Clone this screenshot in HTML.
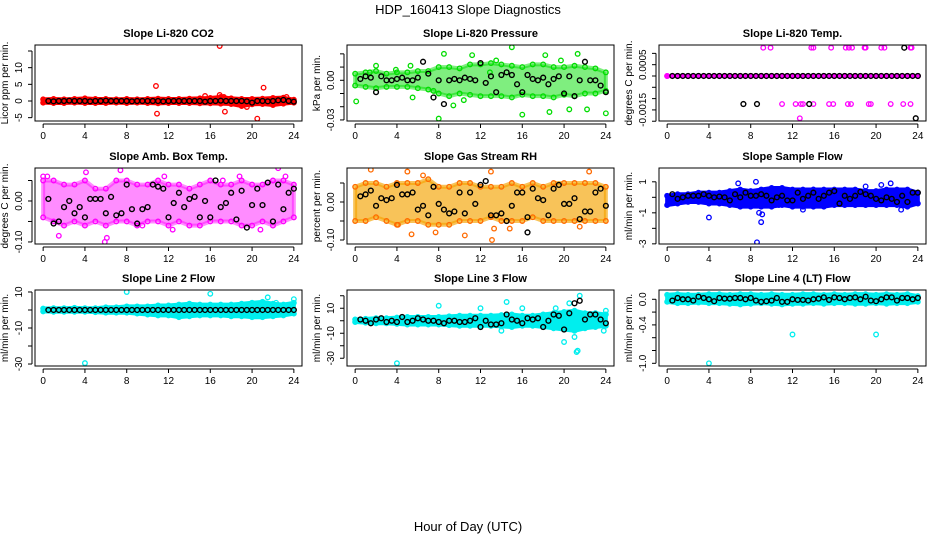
<!DOCTYPE html>
<html><head><meta charset="utf-8"><style>
html,body{margin:0;padding:0;background:#fff;}
svg{display:block;font-family:"Liberation Sans",Arial,sans-serif;}
</style></head><body>
<svg id="chart" width="936" height="540" viewBox="0 0 936 540">
<text x="468" y="14" text-anchor="middle" font-size="13">HDP_160413  Slope Diagnostics</text>
<text x="468" y="531" text-anchor="middle" font-size="13">Hour of Day (UTC)</text>
</svg>
<script>
const hours=[0,1,2,3,4,5,6,7,8,9,10,11,12,13,14,15,16,17,18,19,20,21,22,23,24];
const blackHours=[0.5,1,1.5,2,2.5,3,3.5,4,4.5,5,5.5,6,6.5,7,7.5,8,8.5,9,9.5,10,10.5,11,11.5,12,12.5,13,13.5,14,14.5,15,15.5,16,16.5,17,17.5,18,18.5,19,19.5,20,20.5,21,21.5,22,22.5,23,23.5,24];
const xTicks=[0,4,8,12,16,20,24];

const co2Hi=[0.5,0.6,0.5,0.6,0.8,0.6,0.6,0.5,0.6,0.5,0.6,0.7,0.6,0.6,0.7,0.8,0.9,1.2,0.8,0.6,0.6,0.7,0.9,1.0,0.4];
const co2Lo=[-0.5,-0.6,-0.6,-0.5,-0.6,-0.6,-0.6,-0.5,-0.6,-0.5,-0.6,-0.7,-0.6,-0.6,-0.6,-0.7,-0.7,-0.8,-0.9,-1.5,-1.0,-0.9,-1.2,-0.8,-0.5];
const co2Black=[0,-0.1,0,0,0.1,0,0,0,-0.1,0,0,0.1,0,0,0,0,-0.1,0,0,0,0,0,-0.1,0,0,0,0,0,0,0,-0.2,0,0,0.1,0,0,0,0,-0.1,-0.5,0,0,-0.1,0,0.2,0.3,0,-0.2];
const co2OutX=[10.8,10.9,15.5,16.9,16.9,17.4,17.3,21.1,20.5,19.5,23.3];
const co2OutY=[4.5,-3.8,1.5,16.5,1.8,-3.2,1.2,4,-5.3,-1.8,1.2];

const presHi=[0.005,0.006,0.007,0.005,0.006,0.006,0.007,0.007,0.01,0.01,0.009,0.012,0.012,0.013,0.012,0.011,0.01,0.012,0.012,0.01,0.01,0.011,0.01,0.009,0.006];
const presLo=[-0.004,-0.005,-0.006,-0.005,-0.005,-0.005,-0.006,-0.007,-0.01,-0.012,-0.01,-0.011,-0.012,-0.012,-0.012,-0.013,-0.011,-0.012,-0.012,-0.013,-0.011,-0.012,-0.01,-0.01,-0.008];
const presBlack=[0.001,0.003,0.002,-0.009,0.003,0,0,0.001,0.002,0,0,0.002,0.014,0.005,-0.013,0,-0.018,0,0.001,0,0.002,0.001,0,0.013,-0.002,0.003,-0.009,0.004,0.006,0.004,-0.003,-0.009,0.004,0.001,0,0.002,-0.003,0.001,0.003,-0.01,0.003,-0.012,0,0.014,0,0,-0.004,-0.009];
const presOutX=[0.1,8.5,11.2,15,18.2,21.3,8,16,18.6,20.5,22.2,24,9.4,13.5,19.7,7.5,10.4,5.5,1.4,2,3.9,5.3,12.9];
const presOutY=[-0.016,0.02,0.019,0.025,0.019,0.02,-0.029,-0.026,-0.024,-0.022,-0.022,-0.025,-0.019,0.015,0.015,-0.008,-0.015,-0.013,0.006,0.011,0.008,0.011,0.006];

const tempHi=[0,0,0,0,0,0,0,0,0,0,0,0,0,0,0,0,0,0,0,0,0,0,0,0,0];
const tempLo=[0,0,0,0,0,0,0,0,0,0,0,0,0,0,0,0,0,0,0,0,0,0,0,0,0];
const tempBlack=[0,0,0,0,0,0,0,0,0,0,0,0,0,0,0,0,0,0,0,0,0,0,0,0,0,0,0,0,0,0,0,0,0,0,0,0,0,0,0,0,0,0,0,0,0,0,0,0];
const tempOutX=[9.2,9.9,13.8,14,15.7,17.1,17.4,17.7,18.9,19,20.5,20.8,23.3,23.4,11,12.3,12.8,13,14,15.5,15.9,17.3,17.6,19.3,19.5,21.4,22.6,23.3,12.7];
const tempOutY=[0.00125,0.00125,0.00125,0.00125,0.00125,0.00125,0.00125,0.00125,0.00125,0.00125,0.00125,0.00125,0.00125,0.00125,-0.00124,-0.00124,-0.00124,-0.00124,-0.00124,-0.00124,-0.00124,-0.00124,-0.00124,-0.00124,-0.00124,-0.00124,-0.00124,-0.00124,-0.00187];
const tempBkX=[22.7,7.3,8.6,13.6,23.8];
const tempBkY=[0.00125,-0.00124,-0.00124,-0.00124,-0.00187];

const ambHi=[0.05,0.05,0.04,0.04,0.05,0.03,0.03,0.05,0.05,0.04,0.04,0.05,0.04,0.04,0.03,0.04,0.05,0.04,0.04,0.05,0.04,0.04,0.05,0.05,0.04];
const ambLo=[-0.04,-0.05,-0.06,-0.05,-0.06,-0.05,-0.06,-0.05,-0.05,-0.06,-0.05,-0.05,-0.06,-0.05,-0.06,-0.06,-0.05,-0.05,-0.05,-0.06,-0.06,-0.05,-0.06,-0.05,-0.04];
const ambBlack=[0.005,-0.055,-0.05,-0.015,0,-0.03,-0.015,-0.04,0.005,0.005,0.005,-0.03,0.01,-0.035,-0.03,0.04,-0.02,-0.055,-0.02,-0.015,0.04,0.035,0.03,-0.04,-0.005,0.02,-0.015,0.005,0.01,-0.04,0,-0.04,0.05,-0.015,-0.005,0.02,-0.045,0.025,-0.065,-0.01,0.03,-0.01,0.045,-0.05,0.04,-0.02,0.02,0.03];
const ambOutX=[0,0.4,1.5,4.1,5.9,6.1,7.4,11.6,17.2,18.8,22.5,23.2,9.5,12.4,20.8];
const ambOutY=[0.06,0.06,-0.085,0.07,-0.1,-0.09,0.075,0.06,0.05,0.06,0.08,0.06,-0.06,-0.07,-0.07];

const rhHi=[0.04,0.05,0.05,0.04,0.05,0.05,0.05,0.06,0.04,0.04,0.05,0.05,0.04,0.04,0.04,0.05,0.04,0.05,0.04,0.05,0.05,0.05,0.05,0.05,0.04];
const rhLo=[-0.05,-0.05,-0.04,-0.05,-0.06,-0.05,-0.05,-0.06,-0.06,-0.06,-0.05,-0.05,-0.05,-0.04,-0.05,-0.05,-0.05,-0.04,-0.05,-0.05,-0.05,-0.05,-0.05,-0.05,-0.05];
const rhBlack=[0.015,0.02,0.03,-0.01,0.01,0.005,0.01,0.045,0.02,0.02,0.025,-0.02,-0.01,-0.035,0.04,-0.005,-0.02,-0.03,-0.025,0.025,-0.03,0.025,-0.005,0.045,0.055,-0.035,-0.035,-0.03,-0.05,-0.01,0.025,0.025,-0.04,0.035,0.01,0.005,-0.035,0.035,0.045,-0.005,-0.005,0.01,-0.045,-0.025,-0.025,0.025,0.035,-0.01];
const rhOutX=[1.5,5,5.4,6.5,7.7,10.5,13,13.1,13.3,14.8,22.4,21.5,4.1];
const rhOutY=[0.085,0.08,-0.085,0.07,-0.08,-0.088,0.08,-0.1,-0.07,-0.07,0.08,-0.065,-0.06];
const rhBkX=[16.5];
const rhBkY=[-0.08];

const flowHi=[0.1,0.2,0.2,0.3,0.3,0.3,0.4,0.5,0.4,0.5,0.6,0.6,0.5,0.5,0.5,0.5,0.5,0.5,0.5,0.4,0.4,0.5,0.5,0.5,0.3];
const flowLo=[-0.5,-0.4,-0.3,-0.3,-0.4,-0.4,-0.5,-0.6,-0.6,-0.6,-0.6,-0.5,-0.6,-0.6,-0.6,-0.6,-0.5,-0.5,-0.5,-0.5,-0.5,-0.5,-0.5,-0.6,-0.4];
const flowBlack=[0.2,-0.1,0,0.1,0.1,0.1,0.2,0.1,0,0.05,0,-0.2,0.2,0,0.3,0.1,0.1,0.2,0.1,-0.2,0,0.1,-0.2,-0.2,0.3,-0.1,0.1,0.3,-0.1,0.1,0.3,0.4,-0.4,0.1,-0.1,0.1,0.35,0.2,0.1,-0.1,-0.2,0,-0.1,-0.3,0.1,-0.3,0.3,0.3];
const flowOutX=[4,6.8,8.5,8.8,8.6,8.8,9,9.1,19,20.5,21.4,22.4,13,14,10.7];
const flowOutY=[-1.3,0.9,1.0,2.3,-2.9,-1.0,-1.6,-1.1,0.7,0.8,0.9,-0.8,-0.8,0.5,-0.5];

const l2Hi=[0.8,1,1,1.2,1,1,1.5,1.5,2,2,2,2.5,2.5,3,3.5,3,3,3,3,3.5,4,4.5,3.5,3,4];
const l2Lo=[-0.8,-1,-1,-1,-1,-1.2,-1.5,-1.5,-1.5,-2,-2.5,-3,-3,-4,-3.5,-3,-3,-3,-3.5,-3.5,-4,-4,-3.5,-3,-2];
const l2Black=[0,0,0,0,0,0,0,0,0,0,0,0,0,0,0,0,0,0,0,0,0,0,0,0,0,0,0,0,0,0,0,0,0,0,0,0,0,0,0,0,0,0,0,0,0,0,0,0];
const l2OutX=[4,8,16,21.5,24,22.3,20];
const l2OutY=[-29.5,10,9,7,6,4,4];

const l3Hi=[1,1.5,2,2,2.5,3,3,3,3,3.5,4,4,4,4,4.5,5,4,4,5,6,7,8,6,6,5];
const l3Lo=[-1,-1.5,-2,-2,-2.5,-3,-3,-3,-3,-3.5,-4,-4,-4,-4,-4.5,-5,-4,-4,-5,-6,-7,-8,-6,-5,-4];
const l3Black=[1,0,-2,1,2,-1,0,-1,3,-1,0,2,1,0,0,-1,-2,0,0,-1,-1,0,2,-5,0,-3,-3,-2,5,1,0,-2,2,1,2,-5,0,5,4,-7,6,14,16,1,5,5,1,-2];
const l3OutX=[4,8,12,14.5,16,19.2,20,20.5,21,21.2,21.3,21.5,24,23.8,14];
const l3OutY=[-34,12,10,15,10,10,-17,14,-13,-25,-24,20,8,-8,-8];

const l4Hi=[0.07,0.08,0.07,0.07,0.08,0.08,0.07,0.08,0.08,0.07,0.08,0.07,0.07,0.08,0.08,0.07,0.08,0.07,0.08,0.08,0.07,0.08,0.07,0.08,0.05];
const l4Lo=[-0.04,-0.06,-0.06,-0.05,-0.06,-0.06,-0.07,-0.08,-0.07,-0.06,-0.07,-0.08,-0.07,-0.07,-0.06,-0.07,-0.06,-0.06,-0.07,-0.07,-0.06,-0.07,-0.06,-0.06,-0.04];
const l4Black=[-0.02,0.02,0,0,-0.02,0.04,0.02,0,-0.03,0.02,0.01,0.01,0.02,0.02,0,0.02,-0.02,-0.04,-0.03,-0.02,0.02,-0.04,-0.04,0,-0.01,-0.01,-0.02,0,0.01,0.03,-0.01,0.03,0.02,0,0.02,0.03,0,0.04,-0.02,-0.03,0,0.03,0.03,-0.02,0.02,0.02,0,0.02];
const l4OutX=[4,12,20];
const l4OutY=[-1.0,-0.55,-0.55];

const panels=[
 {name:"co2",title:"Slope Li-820 CO2",ylab:"Licor ppm per min.",col:0,row:0,ymin:-6.0,ymax:16.8,ticks:[-5,0,5,10,15],tl:["-5","0","5","10",""],color:"#ff0000",band:"#ff0000",op:1,hi:co2Hi,lo:co2Lo,bk:co2Black,ox:co2OutX,oy:co2OutY,bx:[],by:[]},
 {name:"pressure",title:"Slope Li-820 Pressure",ylab:"kPa per min.",col:1,row:0,ymin:-0.0308,ymax:0.0267,ticks:[-0.03,-0.02,-0.01,0,0.01,0.02],tl:["-0.03","","","0.00","",""],color:"#00dd00",band:"#00dd00",op:0.5,hi:presHi,lo:presLo,bk:presBlack,ox:presOutX,oy:presOutY,bx:[],by:[]},
 {name:"temp",title:"Slope Li-820 Temp.",ylab:"degrees C per min.",col:2,row:0,ymin:-0.00199,ymax:0.00137,ticks:[0.001,0.0005,0,-0.0005,-0.001,-0.0015,-0.002],tl:["","0.0005","","","","-0.0015",""],color:"#ff00ff",band:"#ff00ff",op:1,hi:tempHi,lo:tempLo,bk:tempBlack,ox:tempOutX,oy:tempOutY,bx:tempBkX,by:tempBkY},
 {name:"ambtemp",title:"Slope Amb. Box Temp.",ylab:"degrees C per min.",col:0,row:1,ymin:-0.105,ymax:0.0805,ticks:[0.05,0,-0.05,-0.1],tl:["","0.00","","-0.10"],color:"#ff00ff",band:"#ff00ff",op:0.45,hi:ambHi,lo:ambLo,bk:ambBlack,ox:ambOutX,oy:ambOutY,bx:[],by:[]},
 {name:"rh",title:"Slope Gas Stream RH",ylab:"percent per min.",col:1,row:1,ymin:-0.1105,ymax:0.0895,ticks:[0.05,0,-0.05,-0.1],tl:["","0.00","","-0.10"],color:"#ff6a00",band:"#f5a300",op:0.65,hi:rhHi,lo:rhLo,bk:rhBlack,ox:rhOutX,oy:rhOutY,bx:rhBkX,by:rhBkY},
 {name:"sampleflow",title:"Slope Sample Flow",ylab:"ml/min per min.",col:2,row:1,ymin:-3.01,ymax:1.89,ticks:[1,0,-1,-2,-3],tl:["1","","-1","","-3"],color:"#0000ff",band:"#0000ff",op:1,hi:flowHi,lo:flowLo,bk:flowBlack,ox:flowOutX,oy:flowOutY,bx:[],by:[]},
 {name:"line2",title:"Slope Line 2 Flow",ylab:"ml/min per min.",col:0,row:2,ymin:-31.1,ymax:11.1,ticks:[10,0,-10,-20,-30],tl:["10","","-10","","-30"],color:"#00eeee",band:"#00eeee",op:1,hi:l2Hi,lo:l2Lo,bk:l2Black,ox:l2OutX,oy:l2OutY,bx:[],by:[]},
 {name:"line3",title:"Slope Line 3 Flow",ylab:"ml/min per min.",col:1,row:2,ymin:-36.2,ymax:24.6,ticks:[20,10,0,-10,-20,-30],tl:["","10","","-10","","-30"],color:"#00eeee",band:"#00eeee",op:1,hi:l3Hi,lo:l3Lo,bk:l3Black,ox:l3OutX,oy:l3OutY,bx:[],by:[]},
 {name:"line4",title:"Slope Line 4 (LT) Flow",ylab:"ml/min per min.",col:2,row:2,ymin:-1.042,ymax:0.145,ticks:[0,-0.2,-0.4,-0.6,-0.8,-1.0],tl:["0.0","","-0.4","","","-1.0"],color:"#00eeee",band:"#00eeee",op:1,hi:l4Hi,lo:l4Lo,bk:l4Black,ox:l4OutX,oy:l4OutY,bx:[],by:[]}
];
const colLeft=[35,347,659], rowTop=[45,168,290], W=267, H=76;
const NS="http://www.w3.org/2000/svg";
const svg=document.getElementById("chart");
function mk(tag,attrs,parent){const e=document.createElementNS(NS,tag);for(const k in attrs)e.setAttribute(k,attrs[k]);(parent||svg).appendChild(e);return e;}
panels.forEach(p=>{
 const L=colLeft[p.col],T=rowTop[p.row];
 const xs=h=>L+(h+0.78)/25.56*W;
 const ys=v=>T+(p.ymax-v)/(p.ymax-p.ymin)*H;
 const g=mk("g",{});
 
 
 const t=mk("text",{x:L+W/2,y:T-8,"text-anchor":"middle","font-size":"11","font-weight":"bold"},g);t.textContent=p.title;
 
 
 const cx=L-27,cy=T+H/2;
 const yl=mk("text",{x:cx,y:cy,"text-anchor":"middle","font-size":"10",transform:`rotate(-90 ${cx} ${cy})`},g);yl.textContent=p.ylab;
 
 
 const clip="clip-"+p.name;
 const cp=mk("clipPath",{id:clip},g);mk("rect",{x:L,y:T,width:W,height:H},cp);
 const pg=mk("g",{"clip-path":`url(#${clip})`},g);
 let pts=hours.map((h,i)=>xs(h)+","+ys(p.hi[i]));
 pts=pts.concat(hours.slice().reverse().map((h,j)=>{const i=hours.length-1-j;return xs(h)+","+ys(p.lo[i]);}));
 const band=mk("polygon",{points:pts.join(" "),fill:p.band,"fill-opacity":p.op,stroke:p.band,"stroke-opacity":p.op,"stroke-width":"4","stroke-linejoin":"round"},pg);
 
 
 hours.forEach((h,i)=>{[p.hi[i],p.lo[i]].forEach(v=>{
  const c=mk("circle",{cx:xs(h),cy:ys(v),r:2.3,fill:"none",stroke:p.color,"stroke-width":1.3},pg);
  
  
 });});
 p.ox.forEach((h,i)=>{
  const c=mk("circle",{cx:xs(h),cy:ys(p.oy[i]),r:2.3,fill:"none",stroke:p.color,"stroke-width":1.3},pg);
  
  
 });
 blackHours.forEach((h,i)=>{
  const c=mk("circle",{cx:xs(h),cy:ys(p.bk[i]),r:2.4,fill:"none",stroke:"#000","stroke-width":1.4},pg);
  
  
 });
 p.bx.forEach((h,i)=>{
  const c=mk("circle",{cx:xs(h),cy:ys(p.by[i]),r:2.4,fill:"none",stroke:"#000","stroke-width":1.4},pg);
  
  
 });
 const box=mk("rect",{x:L,y:T,width:W,height:H,fill:"none",stroke:"#000","stroke-width":1},g);
 
 
 const ay=T+H+3;
 mk("line",{x1:xs(0),x2:xs(24),y1:ay,y2:ay,stroke:"#000"},g);
 xTicks.forEach(v=>{
  mk("line",{x1:xs(v),x2:xs(v),y1:ay,y2:ay+4,stroke:"#000"},g);
  const tx=mk("text",{x:xs(v),y:ay+15,"text-anchor":"middle","font-size":"10"},g);tx.textContent=v;
  
  
 });
 const ax=L-3;
 mk("line",{x1:ax,x2:ax,y1:ys(Math.max(...p.ticks)),y2:ys(Math.min(...p.ticks)),stroke:"#000"},g);
 p.ticks.forEach((v,i)=>{
  mk("line",{x1:ax-4,x2:ax,y1:ys(v),y2:ys(v),stroke:"#000"},g);
  if(p.tl[i]){const lx=L-13,ly=ys(v);
   const tx=mk("text",{x:lx,y:ly,"text-anchor":"middle","font-size":"10",transform:`rotate(-90 ${lx} ${ly})`},g);tx.textContent=p.tl[i];
   
   }
 });
});
</script>
</body></html>
